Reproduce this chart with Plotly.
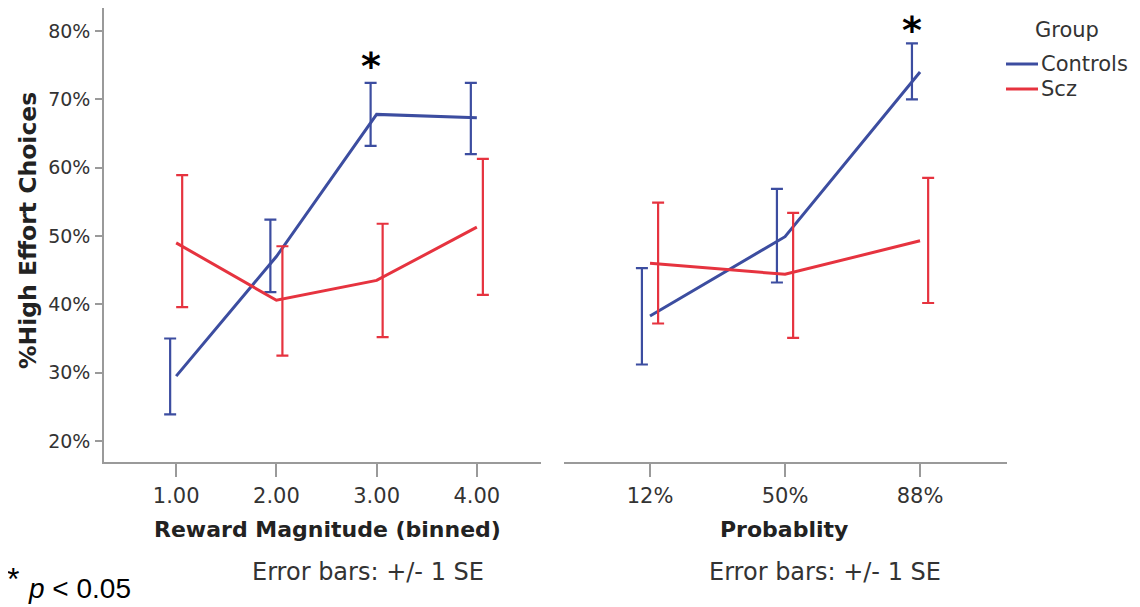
import plotly.graph_objects as go

# ---------------- data ----------------
reward_ticks = ["1.00", "2.00", "3.00", "4.00"]
reward_x = [1, 2, 3, 4]
prob_ticks = ["12%", "50%", "88%"]
prob_x = [0, 1, 2]

ctrl_reward_mean = [29.5, 47.0, 67.8, 67.3]
ctrl_reward_hi = [35.0, 52.4, 72.4, 72.4]
ctrl_reward_lo = [23.9, 41.8, 63.2, 62.0]

scz_reward_mean = [49.0, 40.6, 43.5, 51.3]
scz_reward_hi = [58.9, 48.5, 51.8, 61.3]
scz_reward_lo = [39.6, 32.5, 35.2, 41.4]

ctrl_prob_mean = [38.3, 49.9, 74.0]
ctrl_prob_hi = [45.3, 56.9, 78.2]
ctrl_prob_lo = [31.2, 43.2, 70.0]

scz_prob_mean = [46.0, 44.4, 49.3]
scz_prob_hi = [54.9, 53.4, 58.5]
scz_prob_lo = [37.2, 35.1, 40.2]

y_ticks = [20, 30, 40, 50, 60, 70, 80]
y_tick_labels = ["20%", "30%", "40%", "50%", "60%", "70%", "80%"]

# significance markers: (category, label height in %)
sig_reward = [(3, 74.9)]
sig_prob = [(2, 80.1)]

# ---------------- style ----------------
BLUE = "#3C4DA0"
RED = "#E6333F"
AX = "#9a9a9a"
TXT = "#333333"
FONT = "DejaVu Sans"
PAGE_OFF = 8          # default body margin of the html page
W, H = 1132, 599
DODGE = 0.06

def px_x(p):
    return (p - PAGE_OFF) / W

def px_y(p):
    return 1 - (p - PAGE_OFF) / H

fig = go.Figure()

def add_group(xs, mean, hi, lo, color, name, xaxis, yaxis, offset):
    fig.add_trace(go.Scatter(
        x=xs, y=mean, mode="lines", name=name,
        line=dict(color=color, width=3),
        xaxis=xaxis, yaxis=yaxis, showlegend=False))
    fig.add_trace(go.Scatter(
        x=[v + offset for v in xs], y=mean, mode="markers", name=name,
        marker=dict(size=1, color="rgba(0,0,0,0)"),
        error_y=dict(type="data", symmetric=False,
                     array=[h - m for h, m in zip(hi, mean)],
                     arrayminus=[m - l for m, l in zip(mean, lo)],
                     color=color, thickness=2.2, width=6),
        xaxis=xaxis, yaxis=yaxis, showlegend=False, hoverinfo="skip"))

add_group(reward_x, ctrl_reward_mean, ctrl_reward_hi, ctrl_reward_lo, BLUE, "Controls", "x", "y", -DODGE)
add_group(reward_x, scz_reward_mean, scz_reward_hi, scz_reward_lo, RED, "Scz", "x", "y", DODGE)
add_group(prob_x, ctrl_prob_mean, ctrl_prob_hi, ctrl_prob_lo, BLUE, "Controls", "x2", "y2", -DODGE)
add_group(prob_x, scz_prob_mean, scz_prob_hi, scz_prob_lo, RED, "Scz", "x2", "y2", DODGE)

y_range = [16.93, 83.37]
y_dom = [px_y(462), px_y(8)]

common_x = dict(showline=True, linecolor=AX, linewidth=1.6, ticks="outside",
                ticklen=13, tickcolor=AX, tickwidth=1.6, showgrid=False, zeroline=False,
                tickfont=dict(family=FONT, size=21, color=TXT), ticklabelstandoff=1)

fig.update_layout(
    width=W, height=H, margin=dict(l=0, r=0, t=0, b=0),
    paper_bgcolor="white", plot_bgcolor="white",
    xaxis=dict(common_x, domain=[px_x(104), px_x(541)], range=[0.28, 4.64],
               tickvals=reward_x, ticktext=reward_ticks, anchor="y"),
    xaxis2=dict(common_x, domain=[px_x(564), px_x(1007)], range=[-0.637, 2.644],
                tickvals=prob_x, ticktext=prob_ticks, anchor="y2"),
    yaxis=dict(domain=y_dom, range=y_range, showline=True, linecolor=AX, linewidth=1.6,
               ticks="outside", ticklen=7, tickcolor=AX, tickwidth=1.6,
               tickvals=y_ticks, ticktext=y_tick_labels, showgrid=False, zeroline=False,
               tickfont=dict(family=FONT, size=19, color=TXT), anchor="x",
               ticklabelstandoff=1),
    yaxis2=dict(domain=y_dom, range=y_range, visible=False, anchor="x2"),
    showlegend=False,
)

def txt(text, x, y, size, xanchor="center", family=FONT, color=TXT, angle=0):
    return dict(text=text, x=px_x(x), y=px_y(y), xref="paper", yref="paper",
                xanchor=xanchor, yanchor="middle", showarrow=False, textangle=angle,
                font=dict(family=family, size=size, color=color))

annotations = []
for c, h in sig_reward:
    annotations.append(dict(text="<b>*</b>", x=c - DODGE, y=h, xref="x", yref="y",
                            xanchor="center", yanchor="middle", showarrow=False,
                            font=dict(family=FONT, size=38, color="black")))
for c, h in sig_prob:
    annotations.append(dict(text="<b>*</b>", x=c - DODGE, y=h, xref="x2", yref="y2",
                            xanchor="center", yanchor="middle", showarrow=False,
                            font=dict(family=FONT, size=38, color="black")))

annotations += [
    txt("<b>%High Effort Choices</b>", 28, 231, 23.5, color="#222", angle=-90),
    txt("<b>Reward Magnitude (binned)</b>", 327, 529, 22, color="#222"),
    txt("<b>Probablity</b>", 784, 529, 22, color="#222"),
    txt("Error bars: +/- 1 SE", 368, 572, 24),
    txt("Error bars: +/- 1 SE", 825, 572, 24),
    txt("*", 13, 579, 32, family="Liberation Sans", color="black"),
    txt("<i>p</i> < 0.05", 26, 588, 28, xanchor="left", family="Liberation Sans", color="black"),
    # legend
    txt("Group", 1067, 30, 21),
    txt("Controls", 1039, 64, 21, xanchor="left"),
    txt("Scz", 1039, 89, 21, xanchor="left"),
]
fig.update_layout(annotations=annotations)

fig.update_layout(shapes=[
    dict(type="line", xref="paper", yref="paper", x0=px_x(1006), x1=px_x(1038),
         y0=px_y(64), y1=px_y(64), line=dict(color=BLUE, width=3)),
    dict(type="line", xref="paper", yref="paper", x0=px_x(1006), x1=px_x(1038),
         y0=px_y(89), y1=px_y(89), line=dict(color=RED, width=3)),
])

fig.write_html("out.html")
